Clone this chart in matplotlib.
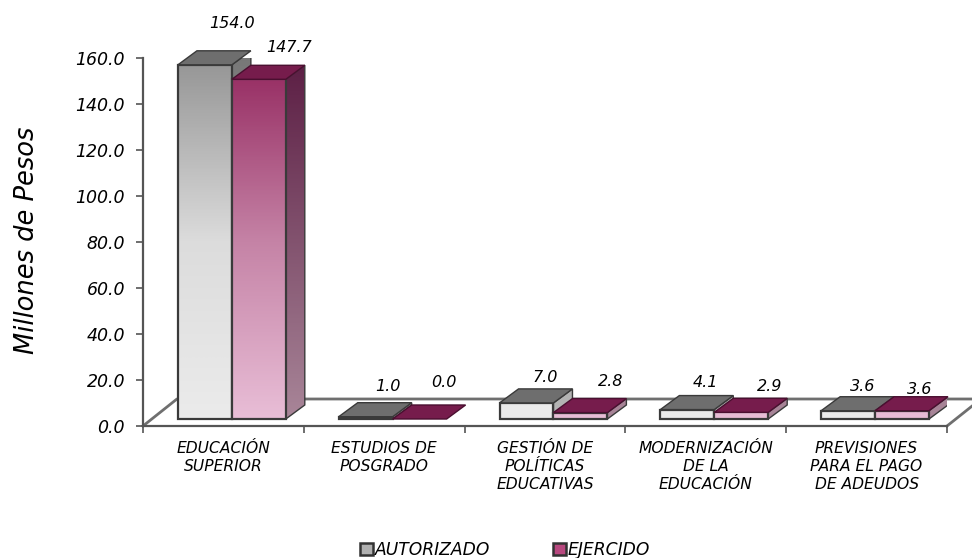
import numpy as np
import matplotlib
matplotlib.use('Agg')
import matplotlib.pyplot as plt
from matplotlib.colors import LinearSegmentedColormap
from matplotlib.patches import Patch, Polygon

categories = ['EDUCACIÓN\nSUPERIOR', 'ESTUDIOS DE\nPOSGRADO', 'GESTIÓN DE\nPOLÍTICAS\nEDUCATIVAS',
              'MODERNIZACIÓN\nDE LA\nEDUCACIÓN', 'PREVISIONES\nPARA EL PAGO\nDE ADEUDOS']
autorizado = [154.0, 1.0, 7.0, 4.1, 3.6]
ejercido = [147.7, 0.0, 2.8, 2.9, 3.6]
yticks = [0, 20, 40, 60, 80, 100, 120, 140, 160]

# hand placed label offsets in points, measured from the back top of each bar
auto_off = [(6, 19.5), (2, 12), (0, 8), (-1, 9.5), (-3, 7)]
ejer_off = [(8, 13), (4, 16), (8, 12), (7, 8.5), (-1, 5.5)]

plt.rcParams['font.family'] = ['DejaVu Sans']
plt.rcParams['font.style'] = 'oblique'

fig = plt.figure(figsize=(9.72, 5.58), dpi=100)
ax = fig.add_axes([143 / 972, (558 - 426) / 558, 804 / 972, 368 / 558])
ax.set_autoscale_on(False)
ax.set_xlim(0, 5)
ax.set_ylim(0, 160)

# pseudo 3d geometry, in data units
start = 35 / 161
bar_w = 54 / 161
dx = 19 / 161
dy = 14 / 2.3
base = 7 / 2.3
floor_dx = 34 / 161
floor_dy = 27 / 2.3

edge = '#3a3a3a'
floor_c = '#6f6f6f'
grey_front = LinearSegmentedColormap.from_list('gf', ['#ebebeb', '#dcdcdc', '#989898'])
grey_side = LinearSegmentedColormap.from_list('gs', ['#b5b5b5', '#777777'])
red_front = LinearSegmentedColormap.from_list('rf', ['#e8bdd6', '#c583a6', '#962c62'])
red_side = LinearSegmentedColormap.from_list('rs', ['#a88598', '#5a1c42'])

ax.plot([0, floor_dx, 5 + floor_dx], [0, floor_dy, floor_dy], color=floor_c, lw=2, clip_on=False, zorder=1)
ax.plot([5, 5 + floor_dx], [0, floor_dy], color=floor_c, lw=2, clip_on=False, zorder=1)


def shaded(x0, x1, y0, y1, cmap, v, clip, z):
    g = np.linspace(0, v / 154.0, 64)[::-1].reshape(-1, 1)
    im = ax.imshow(g, cmap=cmap, vmin=0, vmax=1, extent=[x0, x1, y0, y1], aspect='auto',
                   interpolation='bilinear', zorder=z)
    ax.add_patch(clip)
    im.set_clip_path(clip)


def draw_bar(x, v, front, side, top_c, top_edge, z):
    y0 = base
    y1 = base + v
    if v > 0:
        p = Polygon([(x + bar_w, y0), (x + bar_w + dx, y0 + dy), (x + bar_w + dx, y1 + dy), (x + bar_w, y1)],
                    facecolor='none', edgecolor=edge, lw=1.0, zorder=z + 0.1)
        shaded(x + bar_w, x + bar_w + dx, y0, y1 + dy, side, v, p, z)
        p = Polygon([(x, y0), (x + bar_w, y0), (x + bar_w, y1), (x, y1)],
                    facecolor='none', edgecolor=edge, lw=1.6, zorder=z + 0.3)
        shaded(x, x + bar_w, y0, y1, front, v, p, z + 0.2)
    ax.add_patch(Polygon([(x, y1), (x + bar_w, y1), (x + bar_w + dx, y1 + dy), (x + dx, y1 + dy)],
                         facecolor=top_c, edgecolor=top_edge, lw=1.0, clip_on=False, zorder=z + 0.4))


for i in range(5):
    x = i + start
    draw_bar(x, autorizado[i], grey_front, grey_side, '#6e6e6e', edge, 3)
    draw_bar(x + bar_w, ejercido[i], red_front, red_side, '#761c4c', '#4a0f30', 4)
    ax.annotate('%.1f' % autorizado[i], (x + dx + bar_w / 2, base + autorizado[i] + dy), xytext=auto_off[i],
                textcoords='offset points', ha='center', va='center', fontsize=11.5, annotation_clip=False)
    ax.annotate('%.1f' % ejercido[i], (x + bar_w + dx + bar_w / 2, base + ejercido[i] + dy), xytext=ejer_off[i],
                textcoords='offset points', ha='center', va='center', fontsize=11.5, annotation_clip=False)

for s in ['top', 'right']:
    ax.spines[s].set_visible(False)
for s in ['left', 'bottom']:
    ax.spines[s].set_color('#555555')
    ax.spines[s].set_linewidth(1.6)
    ax.spines[s].set_zorder(2)

ax.set_yticks(yticks)
ax.set_yticklabels(['%.1f' % t for t in yticks], fontsize=12.5)
ax.tick_params(axis='y', length=5, width=1.2, color='#555555', pad=8)
ax.set_xticks(np.arange(6))
ax.set_xticklabels([])
ax.tick_params(axis='x', which='major', length=5, width=1.2, color='#555555')
ax.set_xticks(np.arange(5) + 0.5, minor=True)
ax.set_xticklabels(categories, minor=True, fontsize=11.2, linespacing=1.24)
ax.tick_params(axis='x', which='minor', length=0, pad=11)

fig.text(27 / 972, 1 - 240 / 558, 'Millones de Pesos', rotation=90, fontsize=18.5, ha='center', va='center')

handles = [Patch(facecolor='#b0b0b0', edgecolor='#333333', lw=1.8),
           Patch(facecolor='#b8487f', edgecolor='#333333', lw=1.8)]
fig.legend(handles, ['AUTORIZADO', 'EJERCIDO'], ncol=2, frameon=False, fontsize=12.3,
           loc='center', bbox_to_anchor=(505 / 972, 1 - 550 / 558), handlelength=0.76, handleheight=0.76,
           handletextpad=0.1, columnspacing=3.7)

fig.savefig('out.png', dpi=100)
